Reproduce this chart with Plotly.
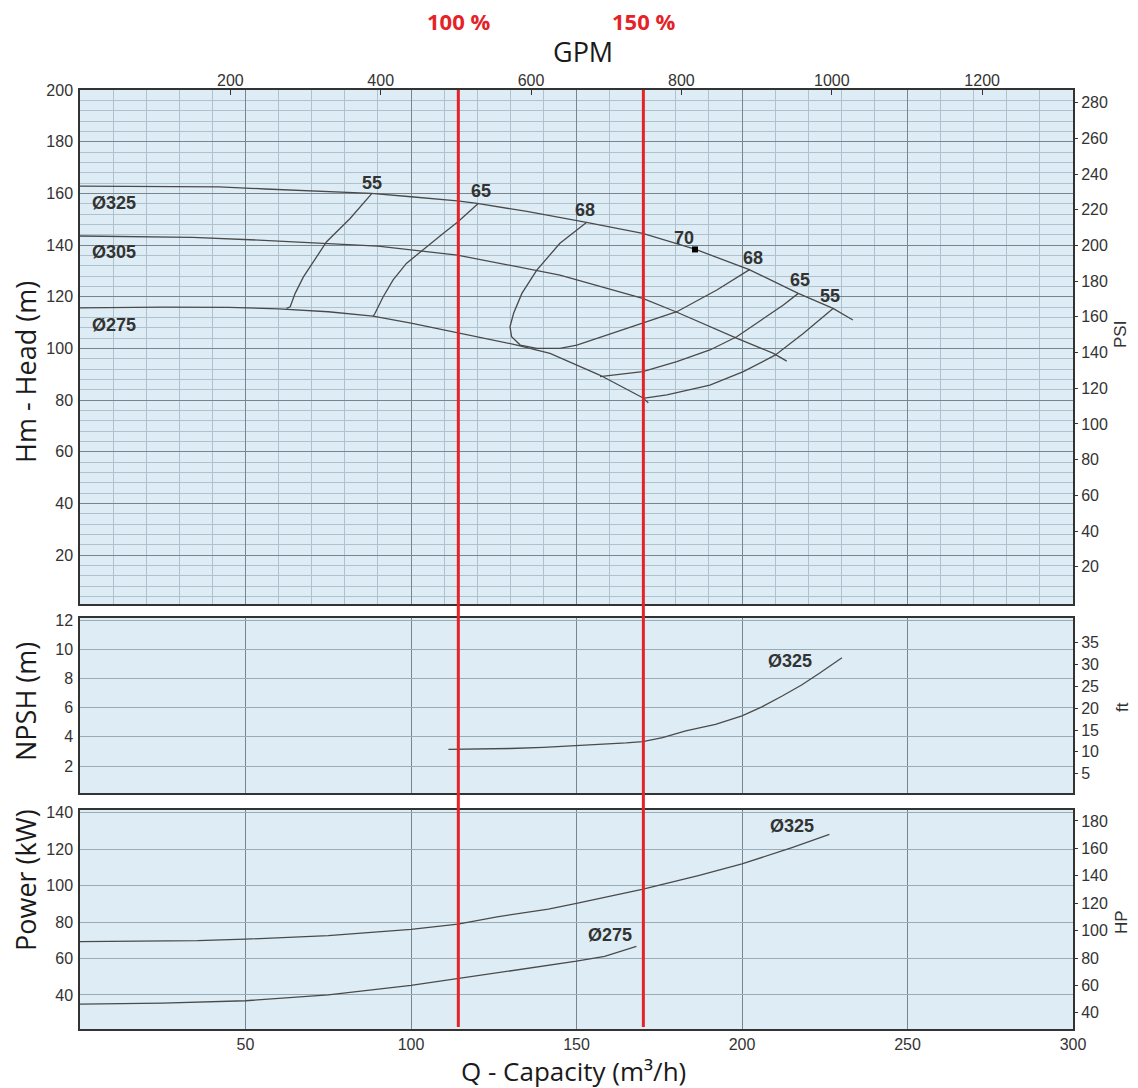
import plotly.graph_objects as go

# ---------------- DATA ----------------
# Head curves (Q in m3/h, H in m)
q_325 = [0, 20, 42, 56, 73, 88, 100, 114, 120, 135, 153, 170, 186, 202, 217, 227.5, 233.5]
h_325 = [162.8, 162.7, 162.5, 161.7, 160.7, 160.0, 158.7, 157.1, 156.1, 153.0, 148.8, 144.5, 138.3, 130.6, 121.3, 115.5, 111.0]

q_305 = [0, 34, 54, 73, 90, 114, 138, 145, 170, 180, 198.5, 209.5, 213.5]
h_305 = [143.5, 143.0, 141.9, 140.7, 139.6, 136.1, 130.3, 128.4, 119.4, 114.2, 103.9, 98.1, 95.1]

q_275 = [0, 25, 45, 60, 75, 88.5, 100, 114, 132, 142, 157, 170, 171.7]
h_275 = [115.7, 116.0, 115.9, 115.3, 114.2, 112.5, 109.8, 106.1, 101.3, 98.1, 89.7, 80.9, 79.0]

# Efficiency iso-lines
q_e55l = [88.2, 81.6, 74.5, 67.5, 65.0, 63.5, 62.4]
h_e55l = [160.0, 150.3, 141.3, 127.7, 121.3, 116.1, 115.5]

q_e65l = [120.3, 114.2, 109.7, 103.6, 98.6, 94.6, 91.6, 89.1, 88.6]
h_e65l = [156.1, 149.0, 144.5, 138.3, 132.9, 126.5, 120.0, 113.5, 112.5]

q_e68 = [153.1, 145.0, 138.0, 133.5, 131.0, 129.9, 130.4, 133.0, 138.0, 145.0, 150.1, 160.1, 170.0, 180.3, 192.4, 202.4]
h_e68 = [148.8, 140.7, 130.3, 121.3, 113.6, 108.4, 104.5, 101.3, 100.0, 100.0, 101.3, 105.6, 109.7, 114.2, 122.6, 130.6]

q_e65r = [157.1, 164.2, 170.0, 180.3, 190.3, 198.4, 207.5, 212.5, 217.0]
h_e65r = [89.1, 90.1, 91.0, 94.9, 99.4, 104.5, 112.3, 116.8, 121.3]

q_e55r = [170.0, 177.3, 190.3, 200.4, 210.0, 218.5, 227.6]
h_e55r = [80.7, 82.0, 85.8, 91.0, 97.4, 105.8, 115.5]

bep_q = [185.8]
bep_h = [138.3]

# Efficiency labels
eff_labels = ["55", "65", "68", "70", "68", "65", "55"]
eff_lab_q = [88.2, 121.1, 152.6, 182.5, 203.3, 217.5, 226.6]
eff_lab_h = [164.0, 160.9, 153.5, 142.7, 135.0, 126.5, 120.3]

dia_labels = ["Ø325", "Ø305", "Ø275"]
dia_lab_q = [3.0, 3.0, 3.0]
dia_lab_h = [156.1, 137.2, 109.0]

# NPSH (m)
q_npsh = [111.3, 120, 130, 140, 150, 157, 165, 170, 176, 183, 192, 200, 206, 212, 218, 223.4, 230.2]
npsh_325 = [3.14, 3.15, 3.2, 3.28, 3.38, 3.47, 3.58, 3.67, 3.95, 4.41, 4.85, 5.43, 6.05, 6.78, 7.55, 8.36, 9.42]

# Power (kW)
q_p325 = [0, 35.5, 50, 75, 100, 114.2, 126, 141.5, 150, 169.8, 186.8, 200, 215.1, 226.4]
p_325 = [69.3, 69.8, 70.6, 72.6, 76.0, 78.9, 82.9, 87.1, 90.3, 97.9, 105.5, 111.9, 120.9, 128.1]
q_p275 = [0, 25, 50, 75, 100, 114.2, 141.5, 150, 158.5, 168.1]
p_275 = [34.9, 35.5, 36.8, 40.0, 45.2, 49.0, 56.3, 58.5, 61.2, 66.6]

# Duty points (100 % and 150 %)
duty_q = [114.3, 170.2]
duty_labels = ["100 %", "150 %"]

# Axis ticks
q_ticks = [50, 100, 150, 200, 250, 300]
gpm_ticks = [200, 400, 600, 800, 1000, 1200]
head_ticks = list(range(20, 201, 20))
psi_ticks = list(range(20, 281, 20))
npsh_ticks = [2, 4, 6, 8, 10, 12]
ft_ticks = [5, 10, 15, 20, 25, 30, 35]
kw_ticks = [40, 60, 80, 100, 120, 140]
hp_ticks = [40, 60, 80, 100, 120, 140, 160, 180]

GPM_PER_M3H = 4.4029

# ---------------- LAYOUT HELPERS ----------------
W, H = 1138, 1088
def px(x):
    return x / W
def py(y):
    return 1 - y / H

X0, X1 = 80, 1073
XD = [px(X0), px(X1)]

BG = "#DEEDF5"
MAJ = "#78858E"
MIN = "#AEC1CC"
HGRID = "#9AABB6"
CURVE = "#4A4A4A"
RED = "#E52228"
BORDER = "#333333"
TICKFONT = dict(family="Liberation Sans, Arial, sans-serif", size=16, color="#333333")
TITLEFONT = dict(family="Open Sans, Noto Sans, sans-serif", size=27, color="#1a1a1a")
LABFONT = dict(family="Liberation Sans, Arial, sans-serif", size=18, color="#333333")

fig = go.Figure()

def line(q, v, xa, ya):
    fig.add_trace(go.Scatter(x=q, y=v, xaxis=xa, yaxis=ya, mode="lines",
                             line=dict(color=CURVE, width=1.3), hoverinfo="skip",
                             showlegend=False))

for q, h in [(q_325, h_325), (q_305, h_305), (q_275, h_275),
             (q_e55l, h_e55l), (q_e65l, h_e65l), (q_e68, h_e68),
             (q_e65r, h_e65r), (q_e55r, h_e55r)]:
    line(q, h, "x", "y")

fig.add_trace(go.Scatter(x=bep_q, y=bep_h, xaxis="x", yaxis="y", mode="markers",
                         marker=dict(symbol="square", size=6, color="black"),
                         hoverinfo="skip", showlegend=False))

line(q_npsh, npsh_325, "x3", "y3")
line(q_p325, p_325, "x4", "y5")
line(q_p275, p_275, "x4", "y5")

# invisible traces so secondary axes are drawn
def ghost(x, y, xa, ya):
    fig.add_trace(go.Scatter(x=x, y=y, xaxis=xa, yaxis=ya, mode="markers",
                             marker=dict(opacity=0, size=1), hoverinfo="skip",
                             showlegend=False))
ghost([gpm_ticks[0]], [head_ticks[0]], "x2", "y")
ghost([q_ticks[0]], [psi_ticks[0]], "x", "y2")
ghost([q_ticks[0]], [ft_ticks[0]], "x3", "y4")
ghost([q_ticks[0]], [hp_ticks[1]], "x4", "y6")

# ---------------- AXES ----------------
base_x = dict(domain=XD, range=[0, 300], showline=True, mirror=True, linecolor=BORDER,
              linewidth=1.5, zeroline=False, ticks="", tick0=0, dtick=50,
              showgrid=True, gridcolor=MAJ, gridwidth=1, tickfont=TICKFONT,
              automargin=False)
base_y = dict(showline=True, mirror=True, linecolor=BORDER, linewidth=1.5,
              zeroline=False, ticks="", showgrid=True, gridwidth=1, tickfont=TICKFONT,
              ticklabelstandoff=2, automargin=False)
right_y = dict(side="right", showgrid=False, showline=False, zeroline=False,
               ticks="outside", ticklen=4, tickcolor=BORDER, tickwidth=1,
               tickfont=TICKFONT, automargin=False)

fig.update_layout(
    template="none",
    width=W, height=H, autosize=False,
    margin=dict(l=0, r=0, t=0, b=0, pad=0),
    paper_bgcolor="white", plot_bgcolor=BG, showlegend=False,
    xaxis=dict(base_x, anchor="y", showticklabels=False,
               minor=dict(dtick=10, tick0=0, showgrid=True, gridcolor=MIN, gridwidth=1)),
    xaxis2=dict(overlaying="x", side="top", anchor="y", range=[0, 300 * GPM_PER_M3H],
                tickvals=gpm_ticks, ticks="inside", ticklen=5, tickcolor=BORDER,
                showgrid=False, showline=False, zeroline=False, tickfont=TICKFONT,
                automargin=False),
    yaxis=dict(base_y, domain=[py(604), py(90)], anchor="x", range=[1.1, 200],
               tickvals=head_ticks, gridcolor=MAJ,
               minor=dict(dtick=4, tick0=0, showgrid=True, gridcolor=MIN, gridwidth=1)),
    yaxis2=dict(right_y, overlaying="y", anchor="x", range=[-0.9, 287.1], tickvals=psi_ticks),
    xaxis3=dict(base_x, anchor="y3", showticklabels=False),
    yaxis3=dict(base_y, domain=[py(793), py(618)], anchor="x3", range=[0.15, 12.14],
                tickvals=npsh_ticks, gridcolor=HGRID),
    yaxis4=dict(right_y, overlaying="y3", anchor="x3", range=[0.6, 40.6], tickvals=ft_ticks),
    xaxis4=dict(base_x, anchor="y5", tickvals=q_ticks, showticklabels=True),
    yaxis5=dict(base_y, domain=[py(1029), py(810)], anchor="x4", range=[21.3, 141.5],
                tickvals=kw_ticks, gridcolor=HGRID),
    yaxis6=dict(right_y, overlaying="y5", anchor="x4", range=[28.2, 188], tickvals=hp_ticks),
)

# ---------------- RED DUTY LINES ----------------
for q in duty_q:
    fig.add_shape(type="line", xref="x", yref="paper", x0=q, x1=q,
                  y0=py(1027), y1=py(90), line=dict(color=RED, width=3), layer="above")

annots = []
for q, t in zip(duty_q, duty_labels):
    annots.append(dict(x=q, y=py(21), xref="x", yref="paper", text=t, showarrow=False,
                       xanchor="center", yanchor="middle",
                       font=dict(family="Open Sans, sans-serif", size=22, color=RED, weight="bold")))

for t, q, h in zip(eff_labels, eff_lab_q, eff_lab_h):
    annots.append(dict(x=q, y=h, xref="x", yref="y", text=t, showarrow=False,
                       xanchor="center", yanchor="middle",
                       font=dict(LABFONT, weight="bold")))
for t, q, h in zip(dia_labels, dia_lab_q, dia_lab_h):
    annots.append(dict(x=q, y=h, xref="x", yref="y", text=t, showarrow=False,
                       xanchor="left", yanchor="middle", font=dict(LABFONT, weight="bold")))

annots.append(dict(x=214.5, y=9.19, xref="x3", yref="y3", text="Ø325", showarrow=False,
                   xanchor="center", yanchor="middle", font=dict(LABFONT, weight="bold")))
annots.append(dict(x=215.1, y=132.7, xref="x4", yref="y5", text="Ø325", showarrow=False,
                   xanchor="center", yanchor="middle", font=dict(LABFONT, weight="bold")))
annots.append(dict(x=160.1, y=72.9, xref="x4", yref="y5", text="Ø275", showarrow=False,
                   xanchor="center", yanchor="middle", font=dict(LABFONT, weight="bold")))

# axis titles
titles = [
    ("GPM", 583, 51, 0, TITLEFONT),
    ("Hm - Head (m)", 25, 372, -90, TITLEFONT),
    ("NPSH (m)", 25, 702, -90, TITLEFONT),
    ("Power (kW)", 25, 880, -90, TITLEFONT),
    ("Q - Capacity (m³/h)", 573, 1071, 0, dict(TITLEFONT, size=26)),
    ("PSI", 1121, 335, -90, dict(TICKFONT, size=17)),
    ("ft", 1122, 707, -90, dict(TICKFONT, size=17)),
    ("HP", 1121, 922, -90, dict(TICKFONT, size=17)),
]
for t, x, y, ang, f in titles:
    annots.append(dict(x=px(x), y=py(y), xref="paper", yref="paper", text=t,
                       showarrow=False, textangle=ang, font=f,
                       xanchor="center", yanchor="middle"))

fig.update_layout(annotations=annots)

fig.write_html("out.html")
